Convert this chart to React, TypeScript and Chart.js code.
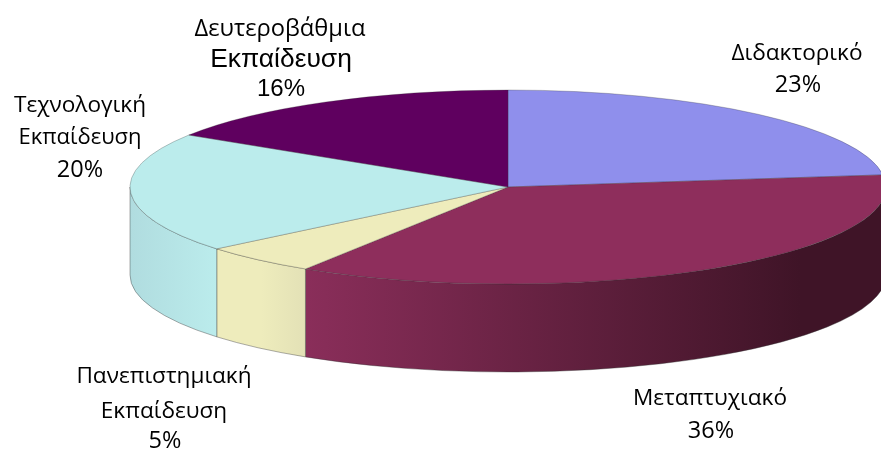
import React, { useEffect, useRef } from "react";
import { Chart, registerables } from "chart.js";

Chart.register(...registerables);

const categories = ["Διδακτορικό", "Μεταπτυχιακό", "Πανεπιστημιακή Εκπαίδευση", "Τεχνολογική Εκπαίδευση", "Δευτεροβάθμια Εκπαίδευση"];
const shares = [23, 36, 5, 20, 16];

const topColors = ["#8f8fec", "#8e2e5c", "#eeecbc", "#bbecec", "#5f005f"];
const wallLeft = ["#8f8fec", "#8a2e5a", "#eeecbc", "#b0dcdf", "#5f005f"];
const wallRight = ["#8f8fec", "#3f1427", "#e3e1b6", "#bbecec", "#5f005f"];

const BODY_FONT = '"Open Sans"';
const ALT_FONT = '"Liberation Sans"';

type Line = { text: string; x: number; y: number; size: number; family: string };
const labelLines: Line[] = [
  { text: "Διδακτορικό", x: 797, y: 60, size: 22.6, family: BODY_FONT },
  { text: "23%", x: 798, y: 92, size: 23.5, family: BODY_FONT },
  { text: "Μεταπτυχιακό", x: 710, y: 405, size: 22.6, family: BODY_FONT },
  { text: "36%", x: 711, y: 438, size: 23.5, family: BODY_FONT },
  { text: "Πανεπιστημιακή", x: 164, y: 383, size: 22.6, family: BODY_FONT },
  { text: "Εκπαίδευση", x: 164, y: 418, size: 22.6, family: BODY_FONT },
  { text: "5%", x: 165, y: 448, size: 23.5, family: BODY_FONT },
  { text: "Τεχνολογική", x: 80, y: 112, size: 22.6, family: BODY_FONT },
  { text: "Εκπαίδευση", x: 80, y: 144, size: 22, family: BODY_FONT },
  { text: "20%", x: 80, y: 177, size: 23.5, family: BODY_FONT },
  { text: "Δευτεροβάθμια", x: 280, y: 36, size: 23.7, family: BODY_FONT },
  { text: "Εκπαίδευση", x: 281, y: 67, size: 26.4, family: ALT_FONT },
  { text: "16%", x: 281, y: 96, size: 24, family: ALT_FONT },
];

const RX = 378;
const RY = 97;
const DEPTH = 88;

const pie3d = {
  id: "pie3d",
  beforeDatasetsDraw(chart: any) {
    const { ctx } = chart;
    const arcs = chart.getDatasetMeta(0).data;
    arcs.forEach((arc: any, i: number) => {
      const a0 = Math.max(arc.startAngle, 0);
      const a1 = Math.min(arc.endAngle, Math.PI);
      if (a1 <= a0) return;
      const xl = arc.x + RX * Math.cos(a1);
      const xr = arc.x + RX * Math.cos(a0);
      const g = ctx.createLinearGradient(xl, 0, Math.min(xr, 800), 0);
      g.addColorStop(0, wallLeft[i]);
      g.addColorStop(i === 2 ? 0.5 : 0, wallLeft[i]);
      g.addColorStop(1, wallRight[i]);
      ctx.save();
      ctx.beginPath();
      ctx.ellipse(arc.x, arc.y, RX, RY, 0, a0, a1);
      ctx.ellipse(arc.x, arc.y + DEPTH, RX, RY, 0, a1, a0, true);
      ctx.closePath();
      ctx.fillStyle = g;
      ctx.fill();
      ctx.strokeStyle = "rgba(50,50,50,0.4)";
      ctx.lineWidth = 1;
      ctx.stroke();
      ctx.restore();
    });
    const first = arcs[0];
    ctx.save();
    ctx.translate(first.x, first.y);
    ctx.scale(1, RY / RX);
    ctx.translate(-first.x, -first.y);
  },
  afterDatasetsDraw(chart: any) {
    chart.ctx.restore();
  },
  afterDraw(chart: any) {
    const { ctx } = chart;
    ctx.save();
    ctx.fillStyle = "#000000";
    ctx.textAlign = "center";
    ctx.textBaseline = "alphabetic";
    labelLines.forEach((l) => {
      ctx.font = `${l.size}px ${l.family}`;
      ctx.fillText(l.text, l.x, l.y);
    });
    ctx.restore();
  },
};

export default function App() {
  const ref = useRef<HTMLCanvasElement>(null);
  useEffect(() => {
    const chart = new Chart(ref.current!, {
      type: "pie",
      data: {
        labels: categories,
        datasets: [
          {
            data: shares,
            backgroundColor: topColors,
            borderColor: "rgba(50,50,50,0.45)",
            borderWidth: 1,
            clip: false,
          } as any,
        ],
      },
      options: {
        responsive: false,
        animation: false,
        radius: RX,
        layout: { padding: { left: 135, bottom: 79 } },
        plugins: { legend: { display: false }, tooltip: { enabled: false } },
      } as any,
      plugins: [pie3d],
    });
    return () => chart.destroy();
  }, []);
  return (
    <div style={{ position: "absolute", left: 0, top: 0, width: 881, height: 453, background: "#fff", overflow: "hidden" }}>
      <canvas ref={ref} width={881} height={453} style={{ display: "block" }} />
    </div>
  );
}
